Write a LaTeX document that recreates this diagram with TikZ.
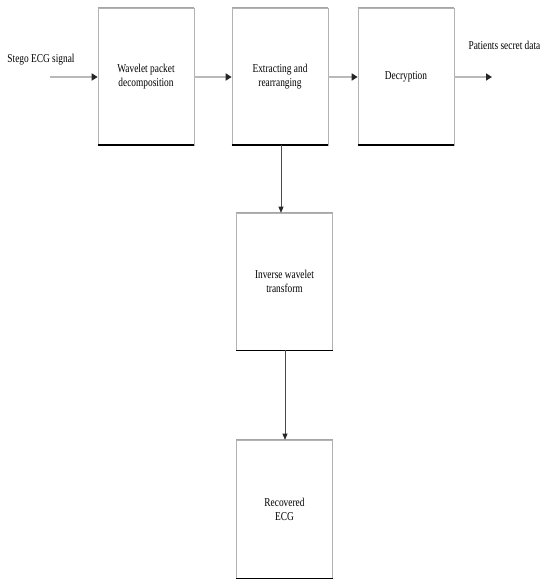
\documentclass[tikz,border=0pt]{standalone}
\usepackage{fontspec}
\setmainfont{Liberation Serif}[FakeStretch=0.78]
\usetikzlibrary{arrows.meta}
\begin{document}
\begin{tikzpicture}[x=1pt,y=-1pt,
  blk/.style={draw=gray!60, line width=0.6pt, minimum width=96pt, align=center, font=\fontsize{12}{14}\selectfont, inner sep=0pt},
  hlink/.style={draw=gray!55, line width=2.6pt, -{Triangle[length=6pt,width=7pt,fill=black!85,color=black!85]}, shorten >=0pt},
  vlink/.style={draw=black!70, line width=0.6pt, -{Triangle[length=6pt,width=5pt,fill=black!85,color=black!85]}},
  lbl/.style={font=\fontsize{12}{14}\selectfont, inner sep=0pt}]
\useasboundingbox (0,0) rectangle (541,580);
\node[blk, minimum height=137pt] (wpd) at (146,76.5) {Wavelet packet\\decomposition};
\node[blk, minimum height=137pt] (ext) at (280,76.5) {Extracting and\\rearranging};
\node[blk, minimum height=137pt] (dec) at (406,76.5) {Decryption};
\node[blk, minimum height=137pt] (iwt) at (284.5,281.5) {Inverse wavelet\\transform};
\node[blk, minimum height=138pt] (rec) at (284.5,509) {Recovered\\ECG};
\foreach \n in {wpd,ext,dec,iwt,rec}{
  \draw[black, line width=1.6pt] (\n.south west) -- (\n.south east);
  \draw[gray!70, line width=1.2pt] (\n.north west) -- (\n.north east);
}
\node[lbl] (in) at (41,60) {Stego ECG signal};
\coordinate (inS) at (50,77);
\node[lbl, anchor=east] (out) at (540.5,45) {Patients secret data};
\coordinate (outE) at (492,77);
\draw[hlink] (inS) -- (wpd.west |- inS);
\draw[hlink] (wpd.east |- inS) -- (ext.west |- inS);
\draw[hlink] (ext.east |- inS) -- (dec.west |- inS);
\draw[hlink] (dec.east |- outE) -- (outE);
\draw[vlink] (ext.south -| 281,0) -- (iwt.north -| 281,0);
\draw[vlink] (iwt.south -| 285,0) -- (rec.north -| 285,0);
\end{tikzpicture}
\end{document}
